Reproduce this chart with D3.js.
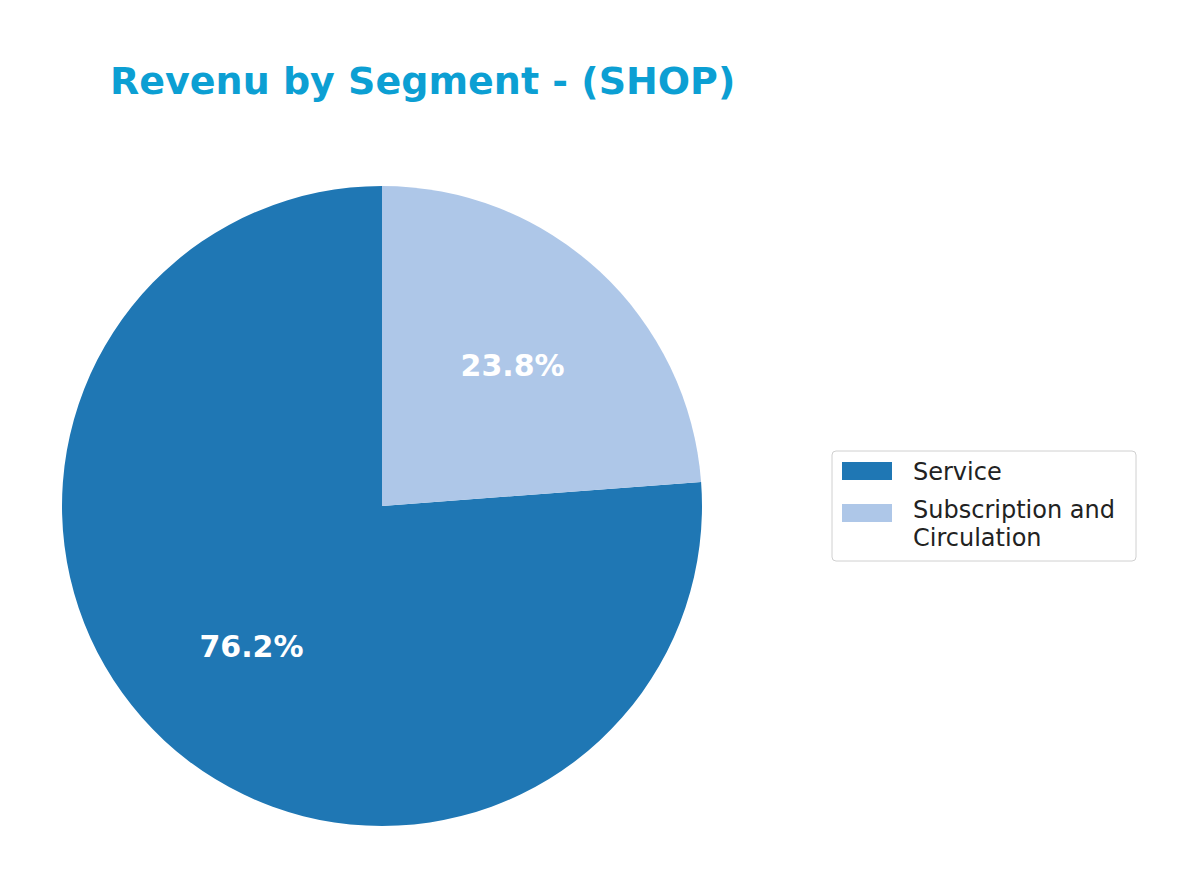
<!DOCTYPE html>
<html><head><meta charset="utf-8">
<script src="https://cdn.jsdelivr.net/npm/d3@7"></script>
<style>body{margin:0;background:#fff}svg{font-family:"DejaVu Sans",sans-serif}</style>
</head><body>
<svg id="c" width="1200" height="889"></svg>
<script>
const categories = ["Service", "Subscription and Circulation"];
const values = [76.2, 23.8];
const colors = ["#1f77b4", "#aec7e8"];
const title = "Revenu by Segment - (SHOP)";

const svg = d3.select("#c");
svg.append("text").attr("x",110).attr("y",94).attr("font-size",38).attr("font-weight","bold")
  .attr("fill","#0c9fd3").text(title);

const cx=382, cy=506, r=320;
const g = svg.append("g").attr("transform",`translate(${cx},${cy})`);
const pie = d3.pie().sort(null).startAngle(0).endAngle(-2*Math.PI);
const arcs = pie(values);
const arc = d3.arc().innerRadius(0).outerRadius(r);
const lab = d3.arc().innerRadius(r*0.6).outerRadius(r*0.6);
g.selectAll("path").data(arcs).join("path").attr("d",arc).attr("fill",(d,i)=>colors[i]);
g.selectAll("text").data(arcs).join("text")
  .attr("transform",d=>`translate(${lab.centroid(d)})`)
  .attr("text-anchor","middle").attr("dy","0.35em")
  .attr("font-size",30).attr("font-weight","bold").attr("fill","#fff")
  .text(d=>d.data.toFixed(1)+"%");

const lg = svg.append("g");
lg.append("rect").attr("x",832).attr("y",451).attr("width",304).attr("height",110).attr("rx",4)
  .attr("fill","#fff").attr("stroke","#d0d0d0");
const rows=[{y:471,lines:["Service"]},{y:509,lines:["Subscription and","Circulation"]}];
rows.forEach((rw,i)=>{
  lg.append("rect").attr("x",842).attr("y",rw.y-9+(i?4:0)).attr("width",50).attr("height",18).attr("fill",colors[i]);
  const t=lg.append("text").attr("x",913).attr("y",rw.y+9).attr("font-size",24).attr("fill","#222");
  rw.lines.forEach((l,j)=>t.append("tspan").attr("x",913).attr("dy",j?28:0).text(l));
});
</script>
</body></html>
